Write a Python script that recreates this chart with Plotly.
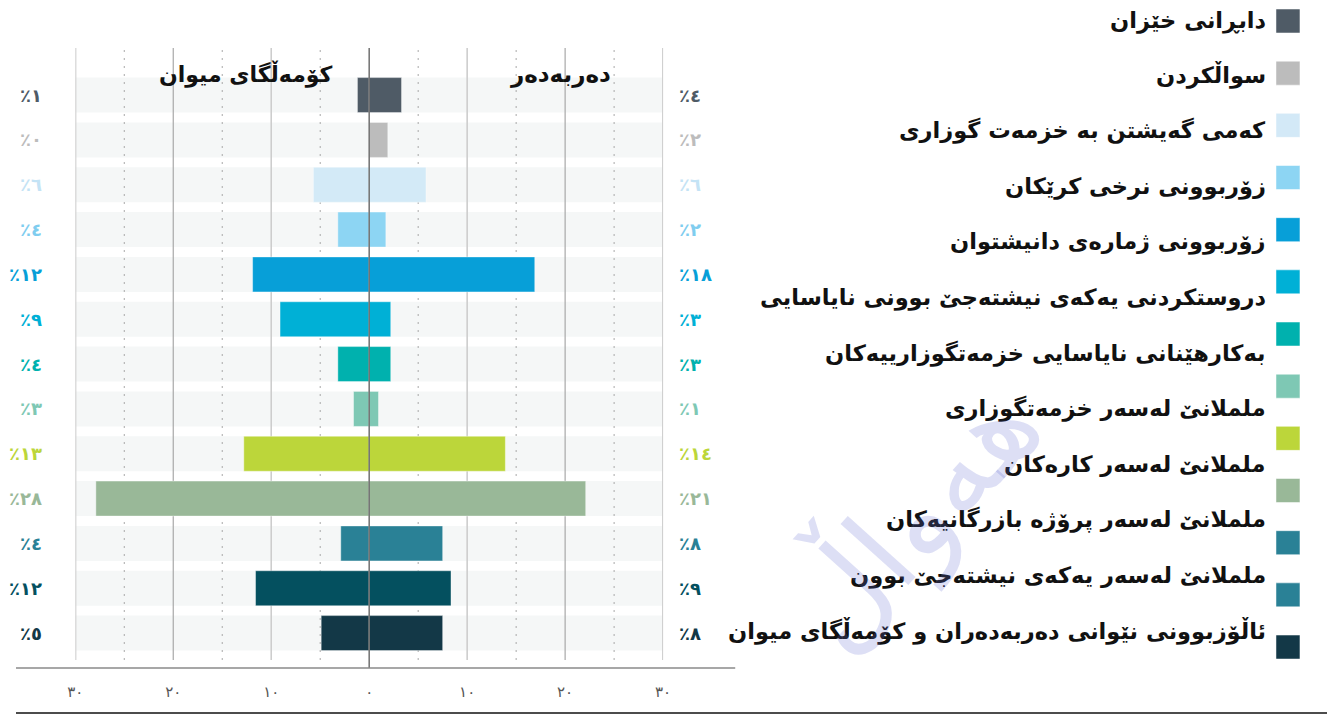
import plotly.graph_objects as go

OFF = 8                      # browser body margin
W, H = 1335 - OFF, 720 - OFF

# ---------------- data ----------------
rows = list(range(13))
host_values = [1.2, 0.0, 5.7, 3.2, 11.9, 9.1, 3.2, 1.6, 12.8, 27.9, 2.9, 11.6, 4.9]     # کۆمەڵگای میوان
displaced_values = [3.3, 1.9, 5.8, 1.7, 16.9, 2.2, 2.2, 0.95, 13.9, 22.1, 7.5, 8.35, 7.5]  # دەربەدەر
host_labels = ["٪١", "٪٠", "٪٦", "٪٤", "٪١٢", "٪٩", "٪٤", "٪٣", "٪١٣", "٪٢٨", "٪٤", "٪١٢", "٪٥"]
displaced_labels = ["٪٤", "٪٢", "٪٦", "٪٢", "٪١٨", "٪٣", "٪٣", "٪١", "٪١٤", "٪٢١", "٪٨", "٪٩", "٪٨"]
bar_colors = ["#4f5b66", "#bcbcbc", "#d3eaf7", "#8dd5f3", "#079fd8", "#00b0d6", "#00b1ae",
              "#7ec8b4", "#bcd63a", "#99b898", "#2a8196", "#04505f", "#133847"]
label_colors = ["#4f5b66", "#bcbcbc", "#c4e3f5", "#7fcdef", "#079fd8", "#00b0d6", "#00b1ae",
                "#7ec8b4", "#bcd63a", "#99b898", "#2a8196", "#04505f", "#133847"]
legend_labels = [
    "دابڕانی خێزان",
    "سواڵکردن",
    "کەمی گەیشتن بە خزمەت گوزاری",
    "زۆربوونی نرخی کرێکان",
    "زۆربوونی ژمارەی دانیشتوان",
    "دروستکردنی یەکەی نیشتەجێ بوونی نایاسایی",
    "بەکارهێنانی نایاسایی خزمەتگوزارییەکان",
    "ململانێ لەسەر خزمەتگوزاری",
    "ململانێ لەسەر کارەکان",
    "ململانێ لەسەر پرۆژە بازرگانیەکان",
    "ململانێ لەسەر یەکەی نیشتەجێ بوون",
    "ئاڵۆزبوونی نێوانی دەربەدەران و کۆمەڵگای میوان",
]
legend_colors = ["#4f5b66", "#bcbcbc", "#d3e9f7", "#8dd5f3", "#079fd8", "#00b0d6", "#00b1ae",
                 "#7ec8b4", "#bcd63a", "#99b898", "#2a8196", "#2a8196", "#133847"]
tick_vals = [-30, -20, -10, 0, 10, 20, 30]
tick_text = ["٣٠", "٢٠", "١٠", "٠", "١٠", "٢٠", "٣٠"]
side_titles = ["کۆمەڵگای میوان", "دەربەدەر"]
watermark = "هەواڵ"

FONT = "DejaVu Sans"
Y_RANGE = [12.6, -1.05]

def px_x(p):
    return (p - OFF) / W

def px_y(p):
    return 1 - (p - OFF) / H

fig = go.Figure()

# bars
for vals in ([-v for v in host_values], displaced_values):
    fig.add_trace(go.Bar(
        y=rows, x=vals, base=0, orientation="h", width=0.78,
        marker=dict(color=bar_colors, line=dict(color="rgba(255,255,255,0.4)", width=1)),
        hoverinfo="x", showlegend=False))

# legend squares (separate axes)
LEG_TOP, LEG_STEP = 21, 52.17
fig.add_trace(go.Scatter(
    x=[0] * len(legend_colors), y=list(range(len(legend_colors))), mode="markers",
    marker=dict(symbol="square", size=24, color=legend_colors,
                line=dict(color="rgba(255,255,255,0.5)", width=1)),
    xaxis="x2", yaxis="y2", hoverinfo="skip", showlegend=False))

shapes = []
# row bands
for i in rows:
    shapes.append(dict(type="rect", xref="x", yref="y", x0=-30, x1=30, y0=i - 0.39, y1=i + 0.39,
                       fillcolor="#f5f7f7", line=dict(width=0), layer="below"))
# grid lines (same layer as the bands, drawn after them, still under the bars)
for v in [-30, -25, -20, -15, -10, -5, 5, 10, 15, 20, 25, 30]:
    if abs(v) == 30:
        st = dict(color="#d0d0d0", width=2.2)
    elif abs(v) == 20:
        st = dict(color="#a8a8a8", width=1.2)
    elif abs(v) == 10:
        st = dict(color="#cdcdcd", width=1.6)
    else:
        st = dict(color="#a8a8a8", width=1, dash="2px,6px")
    shapes.append(dict(type="line", xref="x", yref="y", x0=v, x1=v, y0=Y_RANGE[0], y1=Y_RANGE[1],
                       line=st, layer="below"))
# zero line above bars
shapes.append(dict(type="line", xref="x", yref="paper", x0=0, x1=0, y0=px_y(668), y1=px_y(48),
                   line=dict(color="#707070", width=1.5), layer="above"))
# horizontal axis line
shapes.append(dict(type="line", xref="paper", yref="paper", x0=0, x1=px_x(736),
                   y0=px_y(668), y1=px_y(668), line=dict(color="#8a8a8a", width=1.5)))
# bottom black rule
shapes.append(dict(type="line", xref="paper", yref="paper", x0=0, x1=1,
                   y0=px_y(713), y1=px_y(713), line=dict(color="#111111", width=1.5)))

annotations = []
for i in rows:
    annotations.append(dict(x=-30, y=i, xref="x", yref="y", text="<b>" + host_labels[i] + "</b>",
                            showarrow=False, xanchor="right", yanchor="middle", xshift=-31,
                            font=dict(family=FONT, size=18, color=label_colors[i])))
    annotations.append(dict(x=30, y=i, xref="x", yref="y", text="<b>" + displaced_labels[i] + "</b>",
                            showarrow=False, xanchor="left", yanchor="middle", xshift=14,
                            font=dict(family=FONT, size=18, color=label_colors[i])))
# side titles
annotations.append(dict(x=-12.6, y=-0.47, xref="x", yref="y", text="<b>" + side_titles[0] + "</b>",
                        showarrow=False, xanchor="center", yanchor="middle",
                        font=dict(family=FONT, size=22, color="#111111")))
annotations.append(dict(x=19.5, y=-0.47, xref="x", yref="y", text="<b>" + side_titles[1] + "</b>",
                        showarrow=False, xanchor="center", yanchor="middle",
                        font=dict(family=FONT, size=23, color="#111111")))
# legend texts
for i, t in enumerate(legend_labels):
    annotations.append(dict(x=px_x(1275), y=px_y(20 + 55.5 * i), xref="paper", yref="paper",
                            text="<b>" + t + "</b>", showarrow=False, xanchor="right", yanchor="middle",
                            font=dict(family=FONT, size=22.5, color="#111111")))
# watermark
annotations.append(dict(x=px_x(915), y=px_y(515), xref="paper", yref="paper", text=watermark,
                        showarrow=False, textangle=-48, xanchor="center", yanchor="middle",
                        font=dict(family=FONT, size=120, color="rgba(100,110,210,0.22)")))

fig.update_layout(
    width=W, height=H,
    margin=dict(l=0, r=0, t=0, b=0),
    paper_bgcolor="white", plot_bgcolor="rgba(0,0,0,0)",
    barmode="overlay",
    showlegend=False,
    xaxis=dict(domain=[px_x(68), px_x(663)], range=[-30, 30], tickvals=tick_vals, ticktext=tick_text,
               showgrid=False, zeroline=False, showline=False, ticks="", ticklabelstandoff=21,
               tickfont=dict(family=FONT, size=15, color="#555555"), fixedrange=True),
    yaxis=dict(domain=[px_y(660), px_y(48)], range=Y_RANGE, visible=False, fixedrange=True),
    xaxis2=dict(domain=[px_x(1283), px_x(1308)], range=[-1, 1], visible=False, anchor="y2"),
    yaxis2=dict(domain=[0, 1],
                range=[(H + OFF - LEG_TOP) / LEG_STEP, (OFF - LEG_TOP) / LEG_STEP],
                visible=False, anchor="x2"),
    shapes=shapes,
    annotations=annotations,
)

fig.write_html("out.html")
